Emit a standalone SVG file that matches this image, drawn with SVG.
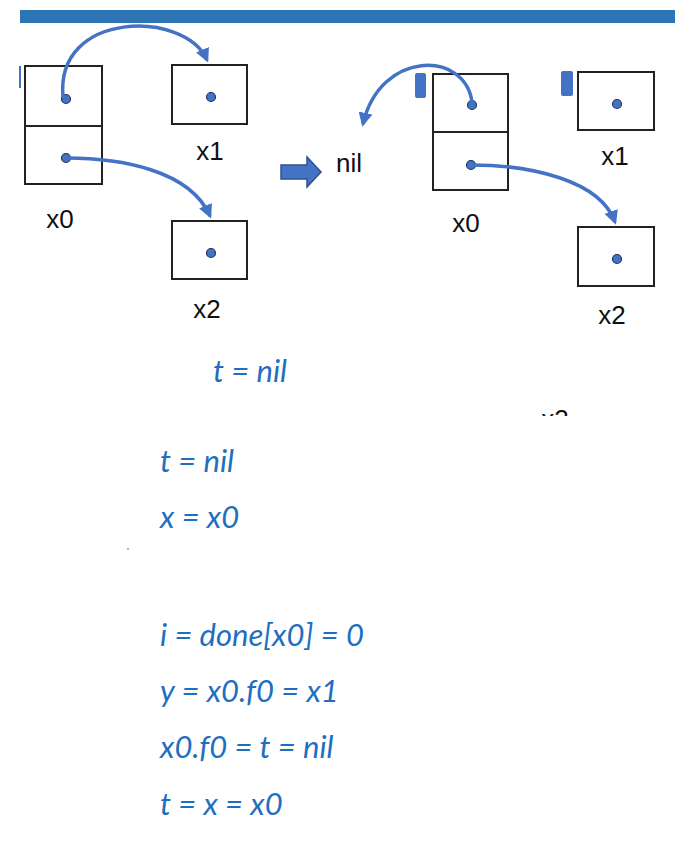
<svg xmlns="http://www.w3.org/2000/svg" width="695" height="860" viewBox="0 0 695 860">
<style>
.box{fill:#fff;stroke:#222;stroke-width:2}
.dot{fill:#4472C4;stroke:#1F3864;stroke-width:1.2}
.lbl{font-family:"Liberation Sans",Arial,sans-serif;font-size:26px;fill:#111}
.code{font-family:"Lato","Liberation Sans",sans-serif;font-style:italic;font-size:31px;fill:#1F6FC0}
.con{fill:none;stroke:#4472C4;stroke-width:3.5}
</style>
<defs>
<marker id="ah" viewBox="0 0 10 10" refX="8" refY="5" markerWidth="4" markerHeight="4" orient="auto"><path d="M0,0 L10,5 L0,10 z" fill="#4472C4"/></marker>
<clipPath id="cl"><rect x="0" y="0" width="695" height="416"/></clipPath>
</defs>
<rect x="20" y="10" width="655" height="13" fill="#2E75B6"/>
<rect x="19" y="66" width="2" height="22" fill="#4472C4"/>
<g id="left-x0"><rect class="box" x="25" y="66" width="77" height="60"/><rect class="box" x="25" y="126" width="77" height="58"/><circle class="dot" cx="66" cy="99" r="4.5"/><circle class="dot" cx="66" cy="158" r="4.5"/><text class="lbl" x="60" y="228" text-anchor="middle">x0</text></g>
<g id="left-x1"><rect class="box" x="172" y="65" width="75" height="59"/><circle class="dot" cx="211" cy="97" r="4.5"/><text class="lbl" x="210" y="160" text-anchor="middle">x1</text></g>
<g id="left-x2"><rect class="box" x="172" y="221" width="75" height="58"/><circle class="dot" cx="211" cy="253" r="4.5"/><text class="lbl" x="207" y="318" text-anchor="middle">x2</text></g>
<g id="bigarrow"><path d="M281,165 H307 V157 L321,172 L307,187 V179 H281 z" fill="#4472C4" stroke="#2F528F" stroke-width="1.5"/></g>
<g id="nil"><text class="lbl" x="336" y="172">nil</text></g>
<g id="right-x0"><rect x="415" y="73" width="11" height="25" rx="2" fill="#4472C4"/><rect class="box" x="433" y="74" width="75" height="58"/><rect class="box" x="433" y="132" width="75" height="58"/><circle class="dot" cx="472" cy="105" r="4.5"/><circle class="dot" cx="471" cy="165" r="4.5"/><text class="lbl" x="466" y="232" text-anchor="middle">x0</text></g>
<g id="right-x1"><rect x="561" y="71" width="12" height="25" rx="2" fill="#4472C4"/><rect class="box" x="578" y="72" width="76" height="58"/><circle class="dot" cx="617" cy="104" r="4.5"/><text class="lbl" x="615" y="165" text-anchor="middle">x1</text></g>
<g id="right-x2"><rect class="box" x="578" y="227" width="76" height="59"/><circle class="dot" cx="617" cy="259" r="4.5"/><text class="lbl" x="612" y="324" text-anchor="middle">x2</text></g>
<g id="connectors">
<path class="con" d="M63,97 C55,10 185,10 207,60" marker-end="url(#ah)"/>
<path class="con" d="M66,158 C120,158 190,170 210,216" marker-end="url(#ah)"/>
<path class="con" d="M472,102 C465,50 380,50 363,124" marker-end="url(#ah)"/>
<path class="con" d="M471,165 C530,165 600,180 615,222" marker-end="url(#ah)"/>
</g>
<text class="lbl" x="555" y="428" text-anchor="middle" clip-path="url(#cl)">x2</text>
<circle cx="128" cy="549" r="0.8" fill="#555"/>
<g id="code">
<text class="code" x="213" y="382">t = nil</text>
<text class="code" x="160" y="472">t = nil</text>
<text class="code" x="160" y="528">x = x0</text>
<text class="code" x="160" y="646">i = done[x0] = 0</text>
<text class="code" x="160" y="702">y = x0.f0 = x1</text>
<text class="code" x="160" y="758">x0.f0 = t = nil</text>
<text class="code" x="160" y="815">t = x = x0</text>
</g>
</svg>
